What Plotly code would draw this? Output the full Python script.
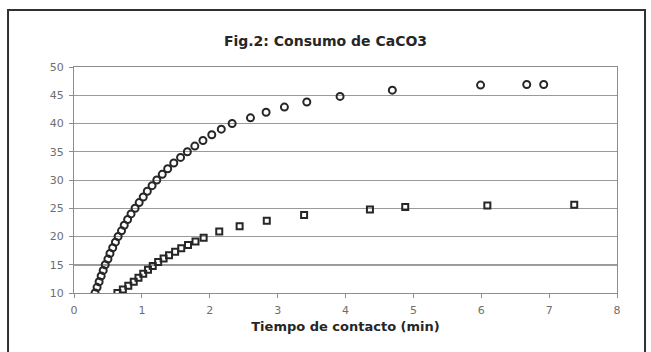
import plotly.graph_objects as go

# Series A (upper curve, circles): contact time (min) vs CaCO3 consumption
tiempo_a = [0.31, 0.34, 0.37, 0.40, 0.43, 0.46, 0.50, 0.53, 0.57, 0.61,
            0.65, 0.70, 0.74, 0.79, 0.84, 0.90, 0.96, 1.02, 1.08, 1.15,
            1.22, 1.30, 1.38, 1.47, 1.57, 1.67, 1.78, 1.90, 2.03, 2.17,
            2.33, 2.60, 2.83, 3.10, 3.43, 3.92, 4.69, 5.99, 6.67, 6.92]
consumo_a = [10, 11, 12, 13, 14, 15, 16, 17, 18, 19,
             20, 21, 22, 23, 24, 25, 26, 27, 28, 29,
             30, 31, 32, 33, 34, 35, 36, 37, 38, 39,
             40, 41, 42, 42.9, 43.8, 44.8, 45.9, 46.8, 46.9, 46.9]

# Series B (lower curve, squares)
tiempo_b = [0.64, 0.72, 0.80, 0.88, 0.95, 1.02, 1.09, 1.16, 1.24, 1.32,
            1.40, 1.49, 1.58, 1.68, 1.79, 1.91, 2.14, 2.44, 2.84, 3.39,
            4.36, 4.88, 6.09, 7.37]
consumo_b = [10.0, 10.6, 11.3, 12.0, 12.7, 13.4, 14.1, 14.8, 15.5, 16.1,
             16.7, 17.3, 17.9, 18.5, 19.1, 19.8, 20.9, 21.8, 22.8, 23.8,
             24.8, 25.2, 25.5, 25.6]

x_ticks = [0, 1, 2, 3, 4, 5, 6, 7, 8]
y_ticks = [10, 15, 20, 25, 30, 35, 40, 45, 50]

FONT = "DejaVu Sans"
INK = "#262626"

fig = go.Figure()
fig.add_trace(go.Scatter(
    x=tiempo_a, y=consumo_a, mode="markers",
    marker=dict(symbol="circle-open", size=7, color=INK, line=dict(width=2)),
    showlegend=False,
))
fig.add_trace(go.Scatter(
    x=tiempo_b, y=consumo_b, mode="markers",
    marker=dict(symbol="square-open", size=6, color=INK, line=dict(width=2)),
    showlegend=False,
))

axis_common = dict(
    showline=True, linecolor="#8c8c8c", linewidth=1, mirror=True,
    ticks="outside", ticklen=4, tickcolor="#8c8c8c",
    tickfont=dict(family=FONT, size=11, color="#6e6e6e"),
    ticklabelstandoff=3,
    zeroline=False,
)

fig.update_xaxes(
    range=[0, 8], tickvals=x_ticks, showgrid=False,
    title=dict(text="<b>Tiempo de contacto (min)</b>",
               font=dict(family=FONT, size=13, color=INK), standoff=5),
    **axis_common,
)
fig.update_yaxes(
    range=[10, 50], tickvals=y_ticks, showgrid=True,
    gridcolor="#9a9a9a", gridwidth=1,
    **axis_common,
)

# darker reference line at 15 and outer chart frame
fig.add_shape(type="line", xref="paper", yref="y", x0=0, x1=1, y0=15, y1=15,
              line=dict(color="#404040", width=1.6), layer="below")
fig.add_shape(type="rect", xref="paper", yref="paper",
              x0=-0.1215, x1=1.0516, y0=-0.32, y1=1.252,
              line=dict(color="#303030", width=2), layer="below")

fig.update_layout(
    width=651, height=352,
    margin=dict(l=74, r=34, t=67, b=59),
    paper_bgcolor="white", plot_bgcolor="white",
    title=dict(text="<b>Fig.2: Consumo de CaCO3</b>",
               font=dict(family=FONT, size=14, color=INK),
               x=0.5, xref="container", xanchor="center",
               y=1 - 41 / 352, yanchor="middle"),
)

fig.write_html("out.html")
